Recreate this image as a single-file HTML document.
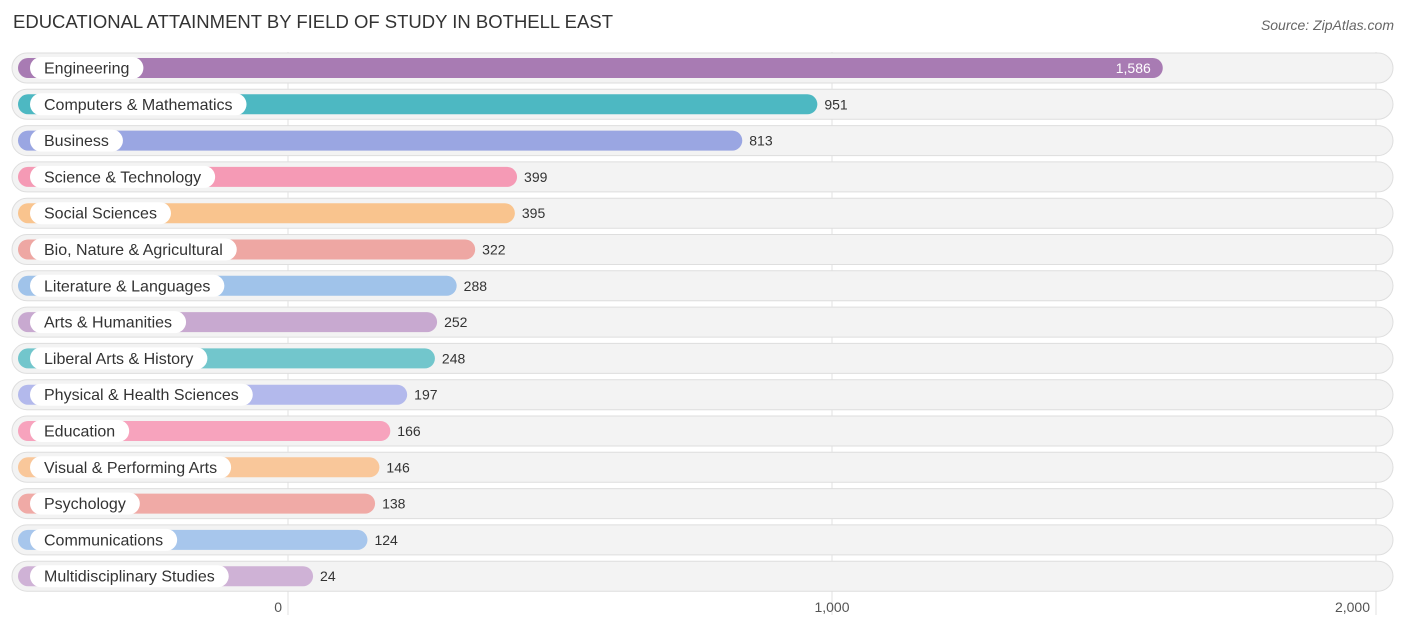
<!DOCTYPE html>
<html><head><meta charset="utf-8"><style>
body{margin:0;background:#fff;font-family:"Liberation Sans",sans-serif;}
svg text{font-family:"Liberation Sans",sans-serif;}
</style></head><body>
<svg width="1406" height="631" xmlns="http://www.w3.org/2000/svg" id="c">
<text x="13" y="28" font-size="18.5" fill="#333">EDUCATIONAL ATTAINMENT BY FIELD OF STUDY IN BOTHELL EAST</text>
<text x="1394" y="30" font-size="14" fill="#666" font-style="italic" text-anchor="end">Source: ZipAtlas.com</text>
<g id="grid"></g><g id="rows"></g><g id="ticks"></g>
</svg>
<script>
const categories=["Engineering","Computers & Mathematics","Business","Science & Technology","Social Sciences","Bio, Nature & Agricultural","Literature & Languages","Arts & Humanities","Liberal Arts & History","Physical & Health Sciences","Education","Visual & Performing Arts","Psychology","Communications","Multidisciplinary Studies"];
const values=[1586,951,813,399,395,322,288,252,248,197,166,146,138,124,24];
const colors=["#a87bb3","#4db8c2","#9aa6e2","#f59ab5","#f9c48e","#eea7a3","#a0c3ea","#c8a9d0","#72c6cc","#b3b9ec","#f7a3bd","#f9c79a","#f0aaa6","#a7c6ec","#cfb2d6"];
const tickValues=[0,1000,2000];
const tickLabels=["0","1,000","2,000"];
const NS="http://www.w3.org/2000/svg";
const x=v=>288+v*0.544;
const barEnd=v=>300+v*0.544;
const y=i=>68+i*36.3;
function mk(t,a,p){const e=document.createElementNS(NS,t);for(const k in a)e.setAttribute(k,a[k]);p.appendChild(e);return e;}
const grid=document.getElementById('grid'),rows=document.getElementById('rows'),ticks=document.getElementById('ticks');
tickValues.forEach((v,i)=>{
 const l=mk('line',{x1:x(v),x2:x(v),y1:52,y2:615,stroke:'#e2e2e2','stroke-width':1},grid);
 
 
 const t=mk('text',{x:x(v)-(i==0?6:(i==2?6:0)),y:612,'font-size':14,fill:'#555','text-anchor':i==0?'end':(i==2?'end':'middle')},ticks);
 t.textContent=tickLabels[i];
 
 
});
categories.forEach((c,i)=>{
 const cy=y(i);
 const g=mk('g',{},rows);
 
 
 mk('rect',{x:12,y:cy-15,width:1381,height:30,rx:15,fill:'#f3f3f3',stroke:'#dedede','stroke-width':1},g);
 const b=mk('rect',{x:18,y:cy-10,width:barEnd(values[i])-18,height:20,rx:10,fill:colors[i]},g);
 
 
 const pill=mk('rect',{x:30,y:cy-11,width:100,height:22,rx:11,fill:'#fff'},g);
 const lt=mk('text',{x:44,y:cy+5.5,'font-size':16,fill:'#333'},g);
 lt.textContent=c;
 
 
 pill.setAttribute('width',lt.getComputedTextLength()+28);
 const inside=i==0;
 const vt=mk('text',{x:inside?barEnd(values[i])-12:barEnd(values[i])+7,y:cy+5,'font-size':14,fill:inside?'#fff':'#333','text-anchor':inside?'end':'start'},g);
 vt.textContent=values[i].toLocaleString('en-US');
 
 
});
</script>
</body></html>
